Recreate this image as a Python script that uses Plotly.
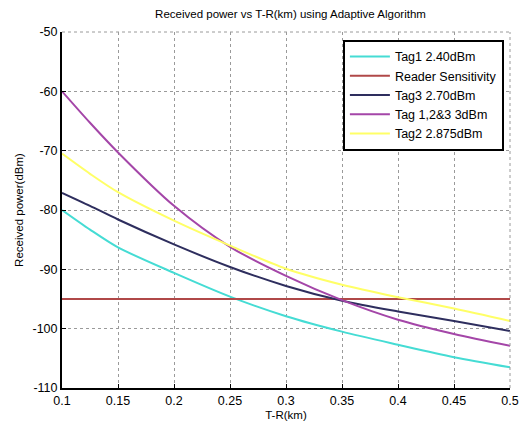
import plotly.graph_objects as go

distance_km = [0.1, 0.125, 0.15, 0.2, 0.25, 0.3, 0.35, 0.4, 0.45, 0.5]

tag1_240 = [-80.0, -83.3, -86.3, -90.6, -94.6, -97.9, -100.5, -102.7, -104.8, -106.5]
reader_sens = [-95.0] * len(distance_km)
tag3_270 = [-77.1, -79.3, -81.6, -85.8, -89.6, -92.8, -95.3, -97.1, -98.7, -100.4]
tag123_3 = [-60.0, -65.3, -70.3, -79.3, -86.2, -91.1, -95.2, -98.5, -100.9, -102.9]
tag2_2875 = [-70.5, -73.9, -77.0, -81.8, -86.0, -89.9, -92.6, -94.7, -96.6, -98.7]

series_names = ["Tag1 2.40dBm", "Reader Sensitivity", "Tag3 2.70dBm",
                "Tag 1,2&3 3dBm", "Tag2 2.875dBm"]
series_values = [tag1_240, reader_sens, tag3_270, tag123_3, tag2_2875]
series_colors = ["#45dcd4", "#b04848", "#2e2e5e", "#a446a8", "#ffff66"]

x_ticks = [0.1, 0.15, 0.2, 0.25, 0.3, 0.35, 0.4, 0.45, 0.5]
x_ticktext = ["0.1", "0.15", "0.2", "0.25", "0.3", "0.35", "0.4", "0.45", "0.5"]
y_ticks = [-110, -100, -90, -80, -70, -60, -50]
y_ticktext = ["-110", "-100", "-90", "-80", "-70", "-60", "-50"]

fig = go.Figure()
for name, vals, col in zip(series_names, series_values, series_colors):
    fig.add_trace(go.Scatter(
        x=distance_km, y=vals, name=name, mode="lines",
        line=dict(color=col, width=2, shape="spline", smoothing=0.8),
    ))

font_family = "Liberation Sans, Arial, sans-serif"

fig.update_layout(
    width=529, height=430,
    margin=dict(l=62, r=10, t=32, b=40),
    paper_bgcolor="white", plot_bgcolor="white",
    font=dict(family=font_family, size=12, color="black"),
    title=dict(text="Received power vs T-R(km) using Adaptive Algorithm",
               x=(62 + 519) / 2 / 529, xanchor="center", y=1 - 14 / 430, yanchor="middle",
               font=dict(family=font_family, size=11.5, color="black")),
    showlegend=True,
    legend=dict(x=0.627, y=0.978, xanchor="left", yanchor="top",
                bgcolor="white", bordercolor="black", borderwidth=2,
                font=dict(family=font_family, size=12.5, color="black"),
                tracegroupgap=0, itemwidth=40),
)

fig.update_xaxes(
    range=[0.1, 0.5], tickvals=x_ticks, ticktext=x_ticktext,
    showgrid=True, gridcolor="#9a9a9a", griddash="dot", gridwidth=1,
    showline=True, linecolor="black", linewidth=2, mirror=False,
    ticks="inside", ticklen=4, tickcolor="black", zeroline=False,
    tickfont=dict(size=12.5),
    title=dict(text="T-R(km)", font=dict(size=11.5), standoff=4),
)
fig.update_yaxes(
    range=[-110, -50], tickvals=y_ticks, ticktext=y_ticktext,
    showgrid=True, gridcolor="#9a9a9a", griddash="dot", gridwidth=1,
    showline=True, linecolor="black", linewidth=2, mirror=False,
    ticks="inside", ticklen=4, tickcolor="black", zeroline=False,
    tickfont=dict(size=12.5),
    title=dict(text="Received power(dBm)", font=dict(size=11.5), standoff=6),
)

# dotted top and right border like the reference
fig.add_shape(type="line", xref="paper", yref="paper", x0=0, x1=1, y0=1, y1=1,
              line=dict(color="#9a9a9a", width=1, dash="dot"))
fig.add_shape(type="line", xref="paper", yref="paper", x0=1, x1=1, y0=0, y1=1,
              line=dict(color="#9a9a9a", width=1, dash="dot"))

fig.write_html("out.html")
